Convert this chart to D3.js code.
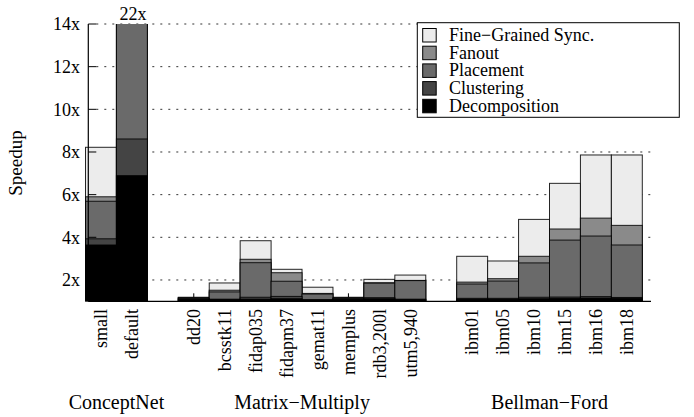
<!DOCTYPE html>
<html>
<head>
<meta charset="utf-8">
<script src="https://cdn.jsdelivr.net/npm/d3@7"></script>
<style>
  html, body { margin: 0; padding: 0; background: #fff; }
  svg text { font-family: "Liberation Serif", "Times New Roman", serif; fill: #000; }
</style>
</head>
<body>
<svg id="chart" width="694" height="417"></svg>
<script>
// Benchmarks, grouped by application
const groupNames = ["ConceptNet", "Matrix\u2212Multiply", "Bellman\u2212Ford"];
const groupMembers = [
  ["small", "default"],
  ["dd20", "bcsstk11", "fidap035", "fidapm37", "gemat11", "memplus", "rdb3,200l", "utm5,940"],
  ["ibm01", "ibm05", "ibm10", "ibm15", "ibm16", "ibm18"]
];

// Cumulative speedup after each optimization stage (same order as groupMembers, flattened)
const stageNames = ["Decomposition", "Clustering", "Placement", "Fanout", "Fine\u2212Grained Sync."];
const decomposition = [3.64, 6.89, 1.10, 1.08, 1.10, 1.12, 1.06, 1.10, 1.12, 1.08, 1.10, 1.10, 1.12, 1.14, 1.15, 1.14];
const clustering    = [3.93, 8.61, 1.14, 1.10, 1.19, 1.23, 1.08, 1.14, 1.17, 1.10, 1.14, 1.14, 1.19, 1.20, 1.22, 1.18];
const placement     = [5.69, 19.5, 1.16, 1.44, 2.81, 1.94, 1.34, 1.16, 1.85, 1.97, 1.81, 1.95, 2.80, 3.87, 4.06, 3.64];
const fanout        = [5.90, 20.4, 1.17, 1.52, 2.97, 2.34, 1.37, 1.17, 1.87, 1.98, 1.90, 2.06, 3.11, 4.39, 4.90, 4.56];
const fineGrained   = [8.22, 22.0, 1.19, 1.86, 3.84, 2.50, 1.66, 1.19, 2.03, 2.23, 3.11, 2.89, 4.84, 6.53, 7.86, 7.86];

const yTicks = [2, 4, 6, 8, 10, 12, 14];
const stageColors = ["#000000", "#444444", "#6a6a6a", "#8a8a8a", "#ececec"];

const svg = d3.select("#chart");
const margin = { left: 88.3, right: 651, top: 24, bottom: 301.3 };

// Lay benchmarks out in slots, one empty slot between groups
const benchmarks = [];
let slot = 0;
groupMembers.forEach((members, g) => {
  if (g > 0) slot += 1;
  members.forEach(name => { benchmarks.push({ name, group: g, slot }); slot += 1; });
});
const nSlots = slot;

const x = d3.scaleLinear().domain([0, nSlots]).range([85.5, 642.3]);
const slotW = x(1) - x(0);
const y = d3.scaleLinear().domain([1, 14]).range([margin.bottom, margin.top]);

// Dotted grid lines
const grid = svg.append("g");
grid.selectAll("line").data(yTicks).join("line")
  .attr("x1", margin.left + 8).attr("x2", margin.right)
  .attr("y1", d => y(d)).attr("y2", d => y(d))
  .attr("stroke", "#333").attr("stroke-width", 1)
  .attr("stroke-dasharray", "2,6");

// Small x ticks at each bar centre (mostly hidden by bars)
svg.append("g").selectAll("line").data(benchmarks).join("line")
  .attr("x1", d => x(d.slot + 0.5)).attr("x2", d => x(d.slot + 0.5))
  .attr("y1", margin.bottom).attr("y2", margin.bottom - 8)
  .attr("stroke", "#000").attr("stroke-width", 1);

// Overlaid bars: draw the largest cumulative stage first
const stages = [decomposition, clustering, placement, fanout, fineGrained];
svg.append("defs").append("clipPath").attr("id", "plotclip")
  .append("rect").attr("x", 0).attr("y", margin.top).attr("width", 694).attr("height", margin.bottom - margin.top);

const bars = svg.append("g").attr("clip-path", "url(#plotclip)");
for (let s = stages.length - 1; s >= 0; s--) {
  bars.append("g").selectAll("rect").data(benchmarks).join("rect")
    .attr("x", d => x(d.slot))
    .attr("width", slotW)
    .attr("y", (d, i) => y(stages[s][i]))
    .attr("height", (d, i) => y(1) - y(stages[s][i]))
    .attr("fill", stageColors[s])
    .attr("stroke", "#000")
    .attr("stroke-width", 1)
    .attr("stroke-opacity", 0.85);
}

// Value label for the clipped bar
benchmarks.forEach((d, i) => {
  if (fineGrained[i] > 14) {
    svg.append("text").attr("x", x(d.slot + 0.5) + 1).attr("y", 20)
      .attr("text-anchor", "middle").attr("font-size", 18)
      .text(fineGrained[i] + "x");
  }
});

// Axis lines
svg.append("line").attr("x1", margin.left).attr("x2", margin.left)
  .attr("y1", margin.top).attr("y2", margin.bottom).attr("stroke", "#000").attr("stroke-width", 1.2);
svg.append("line").attr("x1", margin.left).attr("x2", margin.right)
  .attr("y1", margin.bottom).attr("y2", margin.bottom).attr("stroke", "#000").attr("stroke-width", 1.2);

// Y ticks and labels
const yt = svg.append("g");
yt.selectAll("line").data(yTicks).join("line")
  .attr("x1", margin.left).attr("x2", margin.left + 8)
  .attr("y1", d => y(d)).attr("y2", d => y(d))
  .attr("stroke", "#000");
yt.selectAll("text").data(yTicks).join("text")
  .attr("x", 80).attr("y", d => y(d)).attr("dy", "0.35em")
  .attr("text-anchor", "end").attr("font-size", 18)
  .text(d => d + "x");

svg.append("text")
  .attr("transform", "translate(22,163) rotate(-90)")
  .attr("text-anchor", "middle").attr("font-size", 19)
  .text("Speedup");

// Benchmark labels
svg.append("g").selectAll("text").data(benchmarks).join("text")
  .attr("transform", d => `translate(${x(d.slot + 0.5)},309) rotate(-90)`)
  .attr("dy", "0.35em")
  .attr("text-anchor", "end").attr("font-size", 18)
  .text(d => d.name);

// Group labels
groupNames.forEach((name, g) => {
  const members = benchmarks.filter(d => d.group === g);
  const cx = (x(members[0].slot) + x(members[members.length - 1].slot + 1)) / 2;
  svg.append("text").attr("x", cx).attr("y", 409)
    .attr("text-anchor", "middle").attr("font-size", 20)
    .text(name);
});

// Legend
const legend = svg.append("g");
legend.append("rect").attr("x", 417.3).attr("y", 22.7).attr("width", 262).attr("height", 94.6)
  .attr("fill", "#fff").attr("stroke", "#000").attr("stroke-width", 1);
const legendOrder = [4, 3, 2, 1, 0];
legendOrder.forEach((s, k) => {
  const ly = 35 + k * 17.7;
  legend.append("rect").attr("x", 422.7).attr("y", ly - 6.5).attr("width", 13.5).attr("height", 13.5)
    .attr("fill", stageColors[s]).attr("stroke", "#000").attr("stroke-width", 1);
  legend.append("text").attr("x", 449).attr("y", ly).attr("dy", "0.33em")
    .attr("font-size", 18).text(stageNames[s]);
});
</script>
</body>
</html>
